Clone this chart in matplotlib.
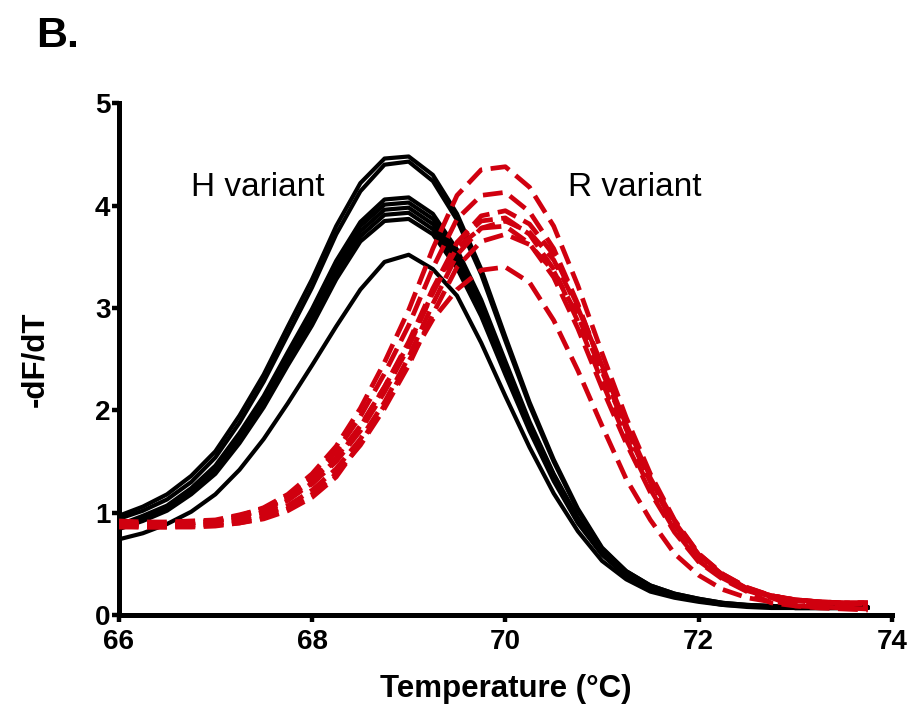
import matplotlib
matplotlib.use("Agg")
import matplotlib.pyplot as plt

plt.rcParams['font.family'] = ['Liberation Sans', 'DejaVu Sans']

# temperature grid (°C) shared by all melt curves
temps = [66.00, 66.25, 66.50, 66.75, 67.00, 67.25, 67.50, 67.75,
         68.00, 68.25, 68.50, 68.75, 69.00, 69.25, 69.50, 69.75,
         70.00, 70.25, 70.50, 70.75, 71.00, 71.25, 71.50, 71.75,
         72.00, 72.25, 72.50, 72.75, 73.00, 73.25, 73.50, 73.75]

# H variant (black, solid) -dF/dT curves
h1 = [0.97, 1.06, 1.18, 1.36, 1.60, 1.95, 2.35, 2.82, 3.28, 3.80, 4.22, 4.46, 4.48, 4.30, 3.92, 3.38,
      2.72, 2.08, 1.52, 1.04, 0.66, 0.43, 0.29, 0.21, 0.16, 0.12, 0.10, 0.09, 0.08, 0.08, 0.08, 0.08]
h2 = [0.94, 1.02, 1.13, 1.30, 1.54, 1.88, 2.28, 2.74, 3.20, 3.72, 4.14, 4.40, 4.43, 4.24, 3.86, 3.33,
      2.68, 2.05, 1.50, 1.02, 0.65, 0.43, 0.29, 0.21, 0.16, 0.12, 0.10, 0.09, 0.08, 0.08, 0.08, 0.08]
h3 = [0.88, 0.97, 1.07, 1.24, 1.46, 1.78, 2.14, 2.57, 2.99, 3.46, 3.84, 4.06, 4.08, 3.92, 3.57, 3.08,
      2.48, 1.89, 1.38, 0.95, 0.62, 0.40, 0.26, 0.19, 0.15, 0.11, 0.09, 0.08, 0.07, 0.07, 0.07, 0.07]
h4 = [0.87, 0.95, 1.06, 1.22, 1.44, 1.76, 2.12, 2.54, 2.95, 3.42, 3.80, 4.01, 4.03, 3.87, 3.53, 3.04,
      2.45, 1.87, 1.37, 0.94, 0.61, 0.40, 0.26, 0.19, 0.14, 0.11, 0.09, 0.08, 0.07, 0.07, 0.07, 0.07]
h5 = [0.86, 0.94, 1.05, 1.21, 1.42, 1.73, 2.09, 2.50, 2.91, 3.37, 3.75, 3.96, 3.98, 3.82, 3.48, 3.00,
      2.42, 1.85, 1.35, 0.92, 0.60, 0.39, 0.26, 0.19, 0.14, 0.11, 0.09, 0.08, 0.07, 0.07, 0.07, 0.07]
h6 = [0.85, 0.93, 1.03, 1.19, 1.40, 1.71, 2.06, 2.47, 2.88, 3.33, 3.70, 3.91, 3.93, 3.77, 3.44, 2.96,
      2.39, 1.82, 1.33, 0.91, 0.60, 0.39, 0.25, 0.18, 0.14, 0.11, 0.09, 0.08, 0.07, 0.07, 0.07, 0.07]
h7 = [0.84, 0.92, 1.02, 1.18, 1.38, 1.68, 2.03, 2.44, 2.83, 3.28, 3.65, 3.85, 3.87, 3.72, 3.39, 2.92,
      2.35, 1.80, 1.31, 0.90, 0.59, 0.38, 0.25, 0.18, 0.14, 0.10, 0.09, 0.08, 0.07, 0.07, 0.07, 0.07]
h8 = [0.74, 0.80, 0.89, 1.01, 1.18, 1.42, 1.72, 2.07, 2.44, 2.82, 3.18, 3.45, 3.52, 3.38, 3.12, 2.66,
      2.14, 1.64, 1.19, 0.82, 0.53, 0.35, 0.23, 0.17, 0.13, 0.10, 0.08, 0.07, 0.07, 0.07, 0.07, 0.07]

# R variant (red, dashed) -dF/dT curves
r1 = [0.90, 0.89, 0.89, 0.90, 0.92, 0.97, 1.05, 1.18, 1.38, 1.65, 2.02, 2.47, 2.98, 3.58, 4.10, 4.35,
      4.38, 4.18, 3.80, 3.22, 2.56, 1.93, 1.38, 0.93, 0.60, 0.40, 0.27, 0.19, 0.15, 0.13, 0.12, 0.12]
r2 = [0.90, 0.89, 0.89, 0.90, 0.92, 0.96, 1.04, 1.16, 1.34, 1.60, 1.94, 2.36, 2.83, 3.39, 3.87, 4.10,
      4.13, 3.94, 3.58, 3.04, 2.41, 1.82, 1.30, 0.88, 0.57, 0.38, 0.25, 0.18, 0.14, 0.12, 0.11, 0.11]
r3 = [0.90, 0.89, 0.89, 0.90, 0.92, 0.96, 1.03, 1.14, 1.28, 1.50, 1.80, 2.18, 2.62, 3.15, 3.64, 3.90,
      3.95, 3.82, 3.52, 3.02, 2.44, 1.86, 1.34, 0.91, 0.59, 0.39, 0.26, 0.19, 0.15, 0.13, 0.12, 0.12]
r4 = [0.88, 0.87, 0.87, 0.88, 0.89, 0.94, 1.01, 1.12, 1.29, 1.52, 1.84, 2.23, 2.67, 3.19, 3.64, 3.85,
      3.88, 3.72, 3.38, 2.87, 2.28, 1.72, 1.23, 0.83, 0.53, 0.36, 0.24, 0.17, 0.09, 0.08, 0.07, 0.06]
r5 = [0.89, 0.88, 0.88, 0.88, 0.89, 0.92, 0.98, 1.07, 1.22, 1.43, 1.72, 2.08, 2.52, 3.04, 3.52, 3.78,
      3.85, 3.74, 3.47, 3.00, 2.44, 1.86, 1.35, 0.92, 0.60, 0.40, 0.27, 0.19, 0.15, 0.13, 0.12, 0.12]
r6 = [0.92, 0.91, 0.91, 0.92, 0.93, 0.98, 1.04, 1.15, 1.32, 1.54, 1.85, 2.23, 2.65, 3.15, 3.59, 3.78,
      3.80, 3.63, 3.30, 2.80, 2.22, 1.68, 1.20, 0.81, 0.52, 0.35, 0.23, 0.12, 0.09, 0.07, 0.06, 0.05]
r7 = [0.87, 0.86, 0.86, 0.86, 0.87, 0.90, 0.95, 1.04, 1.18, 1.38, 1.66, 2.02, 2.44, 2.94, 3.40, 3.65,
      3.72, 3.62, 3.36, 2.92, 2.38, 1.82, 1.32, 0.90, 0.59, 0.39, 0.26, 0.19, 0.15, 0.13, 0.12, 0.12]
r8 = [0.86, 0.86, 0.86, 0.87, 0.88, 0.90, 0.94, 1.02, 1.15, 1.35, 1.68, 2.05, 2.48, 2.89, 3.18, 3.37,
      3.40, 3.25, 2.88, 2.39, 1.85, 1.33, 0.93, 0.60, 0.39, 0.25, 0.17, 0.13, 0.11, 0.10, 0.10, 0.10]

h_curves = [h1, h2, h3, h4, h5, h6, h7, h8]
r_curves = [r1, r2, r3, r4, r5, r6, r7, r8]

red = '#d0000f'

fig = plt.figure(figsize=(9.13, 7.22), dpi=100)
ax = fig.add_axes([0.130, 0.148, 0.847, 0.709])

for y in h_curves:
    ax.plot(temps, y, color='black', lw=3.0, solid_joinstyle='round',
            solid_capstyle='round', zorder=2)
for y in r_curves:
    ax.plot(temps, y, color=red, lw=3.4, dashes=(4.2, 1.8),
            dash_joinstyle='round', zorder=3)

ax.text(67.44, 4.18, 'H variant', fontsize=24, ha='center', va='center')
ax.text(71.34, 4.18, 'R variant', fontsize=24, ha='center', va='center')

ax.set_xlim(66, 74)
ax.set_ylim(0, 5)
ax.set_xticks([66, 68, 70, 72, 74])
ax.set_yticks([0, 1, 2, 3, 4, 5])

for s in ['top', 'right']:
    ax.spines[s].set_visible(False)
for s in ['left', 'bottom']:
    ax.spines[s].set_linewidth(3.6)
    ax.spines[s].set_capstyle('projecting')

ax.tick_params(axis='both', direction='out', width=3.2, length=5, labelsize=20)
ax.tick_params(axis='y', pad=1)
ax.tick_params(axis='x', pad=5)
for lab in ax.get_xticklabels() + ax.get_yticklabels():
    lab.set_fontweight('bold')

ax.set_xlabel('Temperature (°C)', fontsize=22.5, fontweight='bold', labelpad=14)
ax.set_ylabel('-dF/dT', fontsize=22.5, fontweight='bold', labelpad=32)

fig.text(0.04, 0.935, 'B.', fontsize=31, fontweight='bold', ha='left', va='baseline')

fig.savefig('out.png', dpi=100)
